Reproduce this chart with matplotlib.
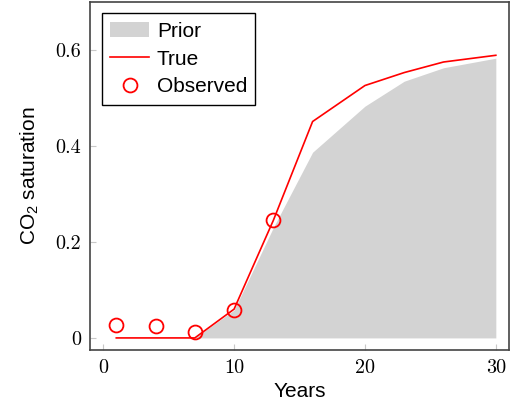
import matplotlib
matplotlib.use("Agg")
from matplotlib import pyplot as plt

# data
years = [1, 4, 7, 10, 13, 16, 20, 23, 26, 30]
true_sat = [0, 0, 0, 0.06, 0.245, 0.451, 0.526, 0.553, 0.575, 0.589]
prior_years = [7, 10, 13, 16, 20, 23, 26, 30]
prior_sat = [0, 0.058, 0.23, 0.387, 0.483, 0.535, 0.563, 0.583]
obs_years = [1, 4, 7, 10, 13]
obs_sat = [0.027, 0.025, 0.012, 0.058, 0.245]
xticks = [0, 10, 20, 30]
xtick_labels = ['0', '10', '20', '30']
yticks = [0, 0.2, 0.4, 0.6]
ytick_labels = ['0', '0.2', '0.4', '0.6']

plt.rcParams['font.family'] = ['Liberation Sans', 'DejaVu Sans']
plt.rcParams['mathtext.fontset'] = 'custom'
plt.rcParams['mathtext.rm'] = 'Liberation Sans'
plt.rcParams['mathtext.it'] = 'Liberation Sans:italic'

fig = plt.figure(figsize=(5.12, 4.05), dpi=100)
ax = fig.add_axes([0.176, 0.136, 0.818, 0.859])

ax.fill_between(prior_years, 0, prior_sat, color='#d3d3d3', linewidth=0,
                label='Prior')
ax.plot(years, true_sat, color='red', lw=1.2, label='True')
ax.plot(obs_years, obs_sat, 'o', mfc='none', mec='red', mew=1.3, ms=10,
        label='Observed')

ax.set_xlim(-1, 31)
ax.set_ylim(-0.025, 0.7)
ax.set_xticks(xticks)
ax.set_xticklabels(xtick_labels, fontfamily='cmr10', fontsize=14.5)
ax.set_yticks(yticks)
ax.set_yticklabels(ytick_labels, fontfamily='cmr10', fontsize=14.5)
ax.tick_params(direction='in', length=4, color='#c8c8c8', pad=6.5)

for s in ax.spines.values():
    s.set_color('#444444')
    s.set_linewidth(1.2)

ax.set_xlabel('Years', fontsize=15, labelpad=4)
ax.set_ylabel('CO$_2$ saturation', fontsize=15, labelpad=10)

leg = ax.legend(loc='upper left', fontsize=15, frameon=True, fancybox=False,
                edgecolor='black', framealpha=1, handlelength=1.9,
                handletextpad=0.35, borderpad=0.4, labelspacing=0.42,
                borderaxespad=0.55)
leg.get_frame().set_linewidth(1.0)

fig.savefig('out.png', dpi=100)
